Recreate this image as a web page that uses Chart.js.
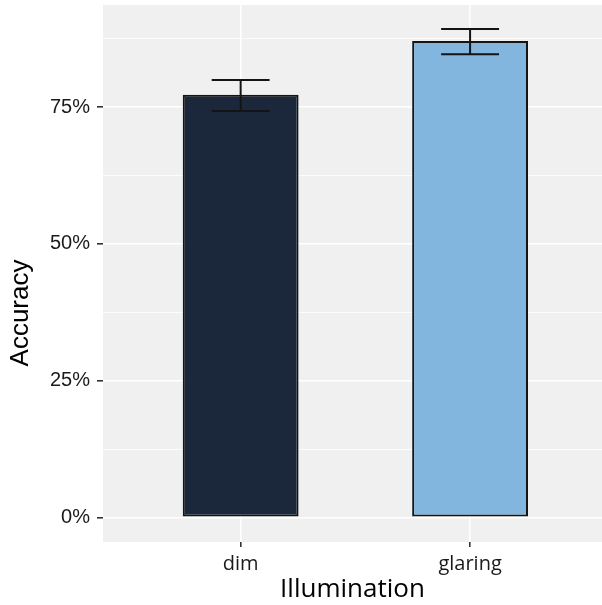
<!DOCTYPE html>
<html>
<head>
<meta charset="utf-8">
<script src="https://cdn.jsdelivr.net/npm/chart.js@4"></script>
<style>
  html, body { margin: 0; padding: 0; background: #fff; }
  #wrap { width: 602px; height: 605px; }
</style>
</head>
<body>
<div id="wrap"><canvas id="chart"></canvas></div>
<script>
const categories = ['dim', 'glaring'];
const accuracy = [0.773, 0.871];
const errLow = [0.743, 0.847];
const errHigh = [0.800, 0.893];
const yTicks = [0, 0.125, 0.25, 0.375, 0.5, 0.625, 0.75, 0.875];
const yLabelTicks = [0, 0.25, 0.5, 0.75];
const barColors = ['#1b283b', '#82b6de'];

const isMajor = v => yLabelTicks.includes(v);

// grey panel behind the plot area
const panelBg = {
  id: 'panelBg',
  beforeDraw(chart) {
    const { ctx, chartArea: a } = chart;
    ctx.save();
    ctx.fillStyle = '#f0f0f0';
    ctx.fillRect(a.left, a.top, a.right - a.left, a.bottom - a.top);
    ctx.restore();
  }
};

// error bars drawn on top of the bars
const errorBars = {
  id: 'errorBars',
  afterDatasetsDraw(chart) {
    const { ctx } = chart;
    const y = chart.scales.y;
    const bars = chart.getDatasetMeta(0).data;
    ctx.save();
    ctx.strokeStyle = '#141414';
    ctx.lineWidth = 2;
    bars.forEach((bar, i) => {
      const cx = bar.x, half = bar.width / 4;
      const top = y.getPixelForValue(errHigh[i]);
      const bot = y.getPixelForValue(errLow[i]);
      ctx.beginPath();
      ctx.moveTo(cx - half, top); ctx.lineTo(cx + half, top);
      ctx.moveTo(cx, top); ctx.lineTo(cx, bot);
      ctx.moveTo(cx - half, bot); ctx.lineTo(cx + half, bot);
      ctx.stroke();
    });
    ctx.restore();
  }
};

// axis titles
const axisTitles = {
  id: 'axisTitles',
  afterDraw(chart) {
    const { ctx, chartArea: a } = chart;
    ctx.save();
    ctx.fillStyle = '#000';
    ctx.textAlign = 'center';
    ctx.textBaseline = 'middle';
    ctx.font = '26px "Open Sans"';
    ctx.fillText('Illumination', (a.left + a.right) / 2, 590);
    ctx.translate(21, 313);
    ctx.rotate(-Math.PI / 2);
    ctx.font = '26px "Liberation Sans"';
    ctx.fillText('Accuracy', 0, 0);
    ctx.restore();
  }
};

new Chart(document.getElementById('chart'), {
  type: 'bar',
  data: {
    datasets: [{
      data: categories.map((c, i) => ({ x: i + 1, y: accuracy[i] })),
      backgroundColor: barColors,
      borderColor: '#141414',
      borderWidth: 2,
      borderSkipped: false,
      barPercentage: 0.505,
      categoryPercentage: 1
    }]
  },
  options: {
    responsive: true,
    maintainAspectRatio: false,
    animation: false,
    layout: { padding: { top: 5, right: 0, left: 0, bottom: 0 } },
    plugins: { legend: { display: false }, tooltip: { enabled: false } },
    scales: {
      x: {
        type: 'linear',
        offset: false,
        min: 0.4,
        max: 2.575,
        afterBuildTicks: s => { s.ticks = categories.map((c, i) => ({ value: i + 1 })); },
        afterFit: s => { s.height = 63; s.paddingLeft = 0; s.paddingRight = 0; },
        border: { display: false },
        grid: { offset: false, color: '#ffffff', lineWidth: 1.6, tickColor: '#333333', tickLength: 5 },
        ticks: {
          autoSkip: false, maxRotation: 0, padding: 5,
          color: '#1a1a1a',
          font: { family: 'Open Sans', size: 20 },
          callback: v => categories[v - 1] ?? ''
        }
      },
      y: {
        min: -0.045,
        max: 0.937,
        afterBuildTicks: s => { s.ticks = yTicks.map(v => ({ value: v })); },
        afterFit: s => { s.width = 103; s.paddingTop = 0; s.paddingBottom = 0; },
        border: { display: false },
        grid: {
          color: '#ffffff',
          lineWidth: c => isMajor(c.tick.value) ? 1.6 : 0.8,
          tickColor: c => isMajor(c.tick.value) ? '#333333' : 'rgba(0,0,0,0)',
          tickLength: 6
        },
        ticks: {
          autoSkip: false, padding: 7,
          color: '#1a1a1a',
          font: { family: 'Liberation Sans', size: 20 },
          callback: v => isMajor(v) ? Math.round(v * 100) + '%' : ''
        }
      }
    }
  },
  plugins: [panelBg, errorBars, axisTitles]
});
</script>
</body>
</html>
